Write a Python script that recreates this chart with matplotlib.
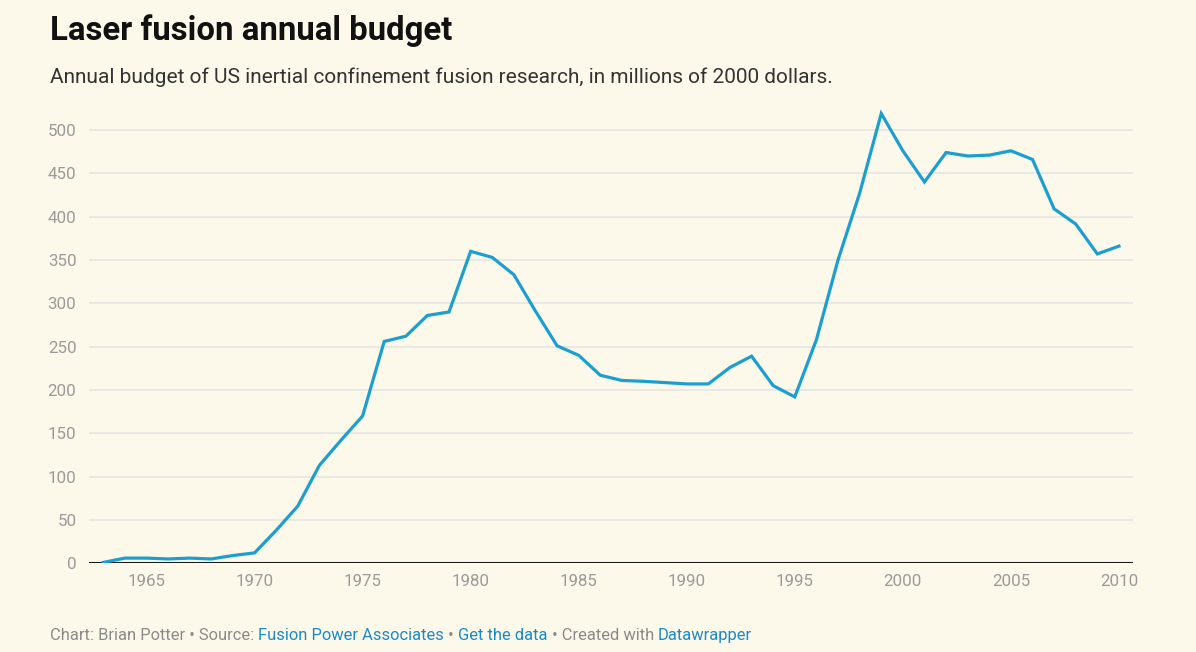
import matplotlib
matplotlib.use("Agg")
import matplotlib.pyplot as plt

plt.rcParams['font.family'] = ['Roboto', 'DejaVu Sans']

# Annual budget, millions of 2000 dollars
years = list(range(1963, 2011))
budget = [1, 6, 6, 5, 6, 5, 9, 12, 38, 66,
          113, 142, 170, 256, 262, 286, 290, 360, 353, 333,
          291, 251, 240, 217, 211, 210, 208.5, 207, 207, 226,
          239, 205, 192, 258, 350, 427, 519, 476, 440, 474,
          470, 471, 476, 466, 409, 391.5, 357, 366]

y_ticks = [0, 50, 100, 150, 200, 250, 300, 350, 400, 450, 500]
x_ticks = [1965, 1970, 1975, 1980, 1985, 1990, 1995, 2000, 2005, 2010]

bg = '#fcf9eb'
W, H = 1196, 652
fig = plt.figure(figsize=(W / 100, H / 100), dpi=100, facecolor=bg)

# axes in pixels: left 89, right 1133, bottom 563, top ~104
ax = fig.add_axes([89 / W, (H - 563.3) / H, (1133 - 89) / W, (563.3 - 104) / H])
ax.set_facecolor(bg)

for t in y_ticks[1:]:
    ax.axhline(t, color='#e4e4e4', lw=1.1, zorder=1)
ax.axhline(0, color='#1a1a1a', lw=2.2, zorder=3)

ax.plot(years, budget, color='#1c9fcf', lw=2.3, zorder=4, solid_joinstyle='miter')

ax.set_xlim(1962.34, 2010.65)
ax.set_ylim(0, 530)
ax.set_yticks(y_ticks)
ax.set_xticks(x_ticks)
ax.tick_params(axis='both', length=0, labelsize=12.2, labelcolor='#9a9a9a')
ax.tick_params(axis='y', pad=9)
ax.tick_params(axis='x', pad=8)
for s in ax.spines.values():
    s.set_visible(False)

fig.text(50 / W, 1 - 31 / H, "Laser fusion annual budget", fontsize=23.7,
         fontweight='bold', color='#111111', va='center', ha='left')
fig.text(50 / W, 1 - 77 / H,
         "Annual budget of US inertial confinement fusion research, in millions of 2000 dollars.",
         fontsize=15, color='#333333', va='center', ha='left')

# footer with mixed colours
gray, blue = '#8a8a8a', '#1a8ac6'
parts = [("Chart: Brian Potter \u2022 Source: ", gray), ("Fusion Power Associates", blue),
         (" \u2022 ", gray), ("Get the data", blue),
         (" \u2022 Created with ", gray), ("Datawrapper", blue)]
renderer = fig.canvas.get_renderer()
x = 50
for txt, col in parts:
    t = fig.text(x / W, 1 - 640 / H, txt, fontsize=11.9, color=col, va='baseline', ha='left')
    bb = t.get_window_extent(renderer=renderer)
    x += bb.width

fig.savefig('out.png', dpi=100, facecolor=bg)
